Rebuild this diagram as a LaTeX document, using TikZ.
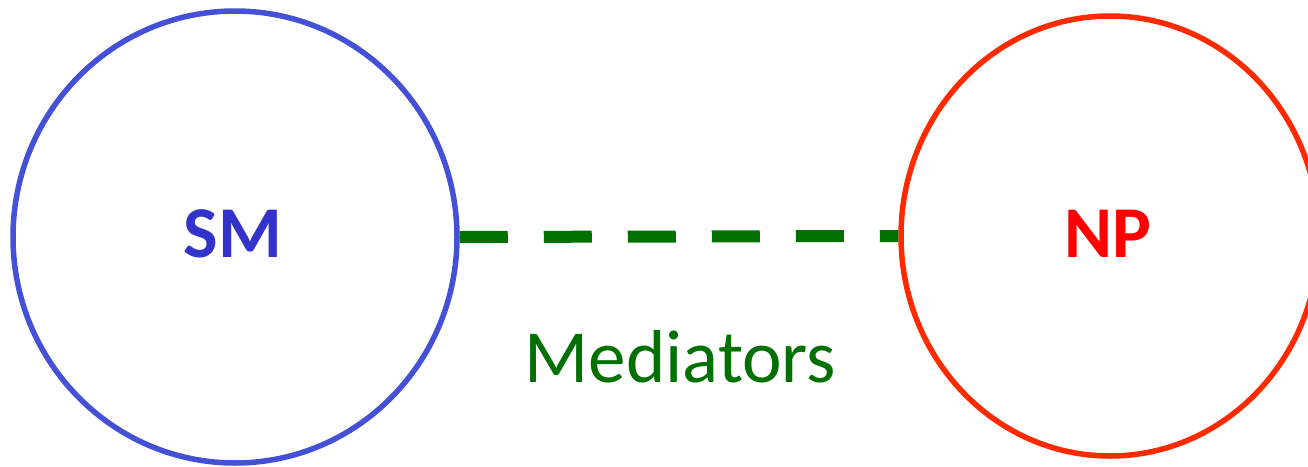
\documentclass[tikz,border=0pt]{standalone}
\usepackage{fontspec}
\setmainfont{Carlito}
\usetikzlibrary{shapes.geometric}
\definecolor{smcircle}{RGB}{68,80,214}
\definecolor{smtext}{RGB}{51,51,204}
\definecolor{npcircle}{RGB}{255,42,0}
\definecolor{nptext}{RGB}{255,0,0}
\definecolor{medgreen}{RGB}{0,112,0}
\tikzset{
  bubble/.style={ellipse, draw, line width=5.5pt, inner sep=0pt},
  biglabel/.style={font=\fontsize{73}{80}\selectfont\bfseries, anchor=base, inner sep=0pt},
  link/.style={draw=medgreen, line width=12pt, dash pattern=on 48pt off 36pt},
}
\begin{document}
\begin{tikzpicture}[x=1pt,y=-1pt]
\clip (0,0) rectangle (1308,466);
\node[bubble, draw=smcircle, minimum width=444pt, minimum height=452pt] (smc) at (235,237) {};
\node[bubble, draw=npcircle, minimum width=418pt, minimum height=440pt] (npc) at (1110,236) {};
\node[biglabel, text=smtext] (sm) at (233,257) {SM};
\node[biglabel, text=nptext] (np) at (1107.5,257) {NP};
\draw[link] (smc.east) -- (npc.west);
\node[font=\fontsize{75}{80}\selectfont, text=medgreen, anchor=base, inner sep=0pt] (med) at (680.5,382) {Mediators};
\end{tikzpicture}
\end{document}
